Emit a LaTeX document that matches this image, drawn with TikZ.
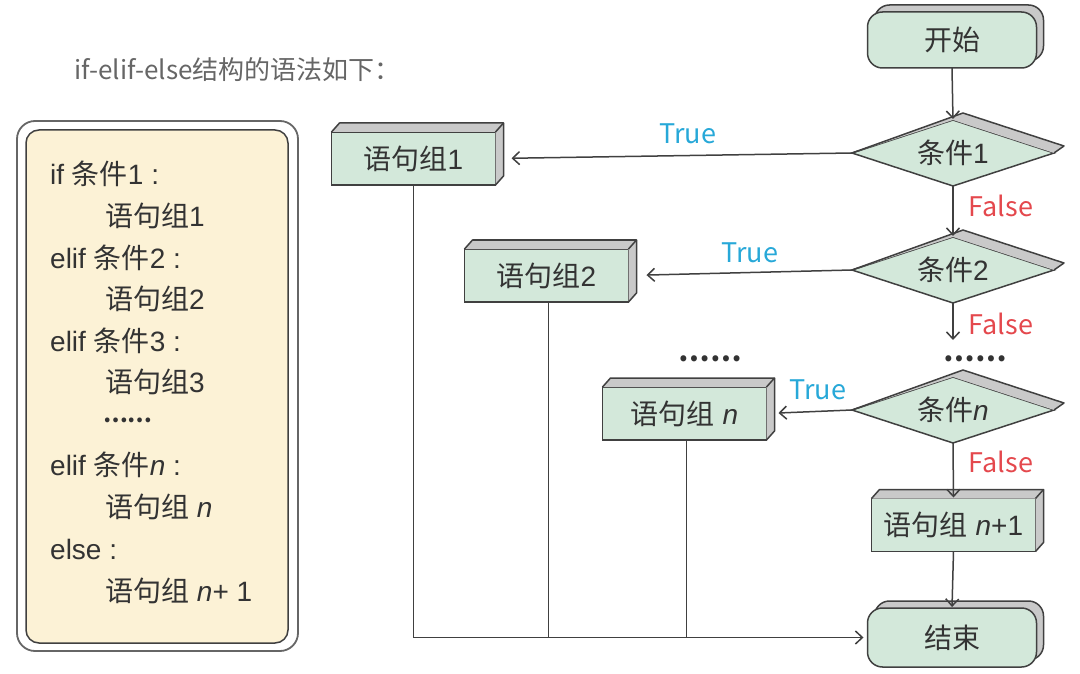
\documentclass[tikz,border=0pt]{standalone}
\usepackage{fontspec}
\setmainfont{Liberation Sans}
\newfontfamily\cjk{Noto Sans CJK SC}
\usetikzlibrary{shapes.geometric,arrows.meta,backgrounds,calc,shadows}
\definecolor{boxfill}{HTML}{D3E8DA}
\definecolor{edgec}{HTML}{404040}
\definecolor{shadec}{HTML}{C9C9C9}
\definecolor{cream}{HTML}{FCF2D6}
\definecolor{txt}{HTML}{333333}
\definecolor{truec}{HTML}{27A8D8}
\definecolor{falsec}{HTML}{E4484D}
\newcommand\zh[1]{{\cjk #1}}
\newcommand\itn{{\itshape n}}
\newcommand\rectdepth[1]{%
  \fill[shadec] (#1.north west) -- ++(8,-9) -- ($(#1.north east)+(8,-9)$) -- ($(#1.south east)+(8,-9)$) -- (#1.south east) -- (#1.north east) -- cycle;
  \draw[edgec,line width=1.5pt,line join=round] (#1.north west) -- ++(8,-9) -- ($(#1.north east)+(8,-9)$) -- ($(#1.south east)+(8,-9)$) -- (#1.south east);
  \draw[edgec,line width=1.5pt] (#1.north east) -- ++(8,-9);}
\newcommand\diadepth[1]{%
  \fill[shadec] (#1.west) -- ($(#1.north)+(10,-7)$) -- ($(#1.east)+(10,-7)$) -- (#1.east) -- (#1.north) -- cycle;
  \draw[edgec,line width=1.5pt,line join=round] (#1.west) -- ($(#1.north)+(10,-7)$) -- ($(#1.east)+(10,-7)$) -- (#1.east);}
\tikzset{
  flowbox/.style={draw=edgec, fill=boxfill, line width=1.5pt, inner sep=0pt, outer sep=0pt,
    minimum width=164pt, minimum height=53pt, text=txt, font=\fontsize{28}{32}\selectfont},
  roundbox/.style={flowbox, rounded corners=15pt, minimum width=169pt, minimum height=56pt,
    general shadow={shadow xshift=7pt, shadow yshift=7pt, fill=shadec, draw=edgec, line width=1.5pt}},
  decision/.style={flowbox, diamond, aspect=3, minimum width=202pt, minimum height=66pt},
  arr/.style={draw=edgec, line width=1.5pt, -{Straight Barb[length=7pt,width=13pt,line width=1.5pt]}},
  plain/.style={draw=edgec, line width=1.5pt},
  truelab/.style={text=truec, font=\cjk\fontsize{27}{30}\selectfont, inner sep=0pt},
  falselab/.style={text=falsec, font=\cjk\fontsize{27}{30}\selectfont, inner sep=0pt},
  codeline/.style={anchor=base west, inner sep=0pt, text=txt, font=\fontsize{28}{30}\selectfont},
  dotsl/.style={inner sep=0pt, text=txt, font=\cjk\bfseries\fontsize{28}{28}\selectfont},
}
\begin{document}
\begin{tikzpicture}[x=1pt,y=-1pt]
\useasboundingbox (0,0) rectangle (1080,674);
% title
\node[anchor=base west, inner sep=0pt, text=black!60, font=\cjk\fontsize{26}{30}\selectfont] (title) at (74,80) {if-elif-else结构的语法如下：};
% left panel
\draw[draw=black!60, line width=1.8pt, fill=white, rounded corners=18pt] (17,121) rectangle (298,651);
\draw[draw=edgec, line width=1.5pt, fill=cream, rounded corners=13pt] (26,130) rectangle (288,643);
\node[codeline] (l1) at (50,185) {if \zh{条件}1 :};
\node[codeline] (l2) at (105,226) {\zh{语句组}1};
\node[codeline] (l3) at (50,268) {elif \zh{条件}2 :};
\node[codeline] (l4) at (105,309) {\zh{语句组}2};
\node[codeline] (l5) at (50,351) {elif \zh{条件}3 :};
\node[codeline] (l6) at (105,392) {\zh{语句组}3};
\node[dotsl, anchor=west, font=\cjk\bfseries\fontsize{22}{22}\selectfont] (l7) at (103,420) {……};
\node[codeline] (l8) at (50,475) {elif \zh{条件}\itn\ :};
\node[codeline] (l9) at (105,517) {\zh{语句组} \itn};
\node[codeline] (l10) at (50,559) {else :};
\node[codeline] (l11) at (105,601) {\zh{语句组} \itn+ 1};
% flowchart nodes
\node[roundbox] (start) at (952,40) {\zh{开始}};
\node[decision] (c1) at (953,153) {\zh{条件}1};
\node[decision] (c2) at (953,270) {\zh{条件}2};
\node[decision] (cn) at (953,410) {\zh{条件}\itn};
\node[flowbox] (b1) at (413.5,158.5) {\zh{语句组}1};
\node[flowbox] (b2) at (546.5,275.5) {\zh{语句组}2};
\node[flowbox] (bn) at (684.5,413.5) {\zh{语句组} \itn};
\node[flowbox] (bn1) at (953.5,525) {\zh{语句组} \itn+1};
\node[roundbox, minimum height=59pt] (end) at (952,637.5) {\zh{结束}};
\diadepth{c1}\diadepth{c2}\diadepth{cn}
\rectdepth{b1}\rectdepth{b2}\rectdepth{bn}\rectdepth{bn1}
\coordinate (c2end) at (953,340);
% labels
\node[truelab] (t1) at (688,134) {True};
\node[truelab] (t2) at (750,253) {True};
\node[truelab] (tn) at (818,390) {True};
\node[falselab] (f1) at (1001,206) {False};
\node[falselab] (f2) at (1001,324) {False};
\node[falselab] (fn) at (1001,462) {False};
\node[dotsl] (d1) at (710,359) {……};
\node[dotsl] (d2) at (975,359) {……};
% connectors
\draw[arr, shorten >=1pt] (start.south) -- (c1.north);
\draw[arr, shorten >=1pt] (c1.south) -- (c2.north);
\draw[arr] (c2.south) -- (c2end);
\draw[arr, shorten >=1pt] (cn.south) -- (bn1.north);
\draw[arr, shorten >=1pt] (bn1.south) -- (end.north);
\draw[arr, shorten >=16pt] (c1.west) -- (b1.east);
\draw[arr, shorten >=18pt] (c2.west) -- (b2.east);
\draw[arr, shorten >=12pt] (cn.west) -- (bn.east);
\draw[arr, shorten >=4pt] (b1.south) |- (end.west);
\draw[plain] ([xshift=2pt]b2.south) -- ([xshift=2pt]b2.south |- end.west);
\draw[plain] ([xshift=2pt]bn.south) -- ([xshift=2pt]bn.south |- end.west);
\end{tikzpicture}
\end{document}
